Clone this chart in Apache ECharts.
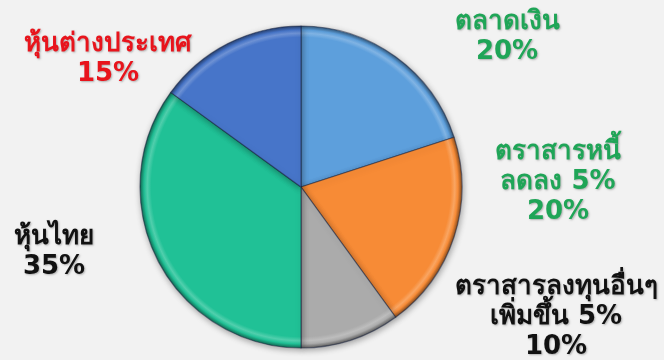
<!DOCTYPE html>
<html>
<head>
<meta charset="utf-8">
<script src="https://cdn.jsdelivr.net/npm/echarts@6/dist/echarts.min.js"></script>
<style>
  html, body { margin: 0; padding: 0; background: #f2f2f2; }
  #chart { width: 664px; height: 360px; }
</style>
</head>
<body>
<div id="chart"></div>
<script>
// Portfolio allocation (percent), clockwise from 12 o'clock
const categories = [
  'ตลาดเงิน',
  'ตราสารหนี้\nลดลง 5%',
  'ตราสารลงทุนอื่นๆ\nเพิ่มขึ้น 5%',
  'หุ้นไทย',
  'หุ้นต่างประเทศ'
];
const shares = [20, 20, 10, 35, 15];

const sliceColors = ['#5d9fdc', '#f78b36', '#ababab', '#20c196', '#4775c9'];
const labelColors = ['#1fa557', '#1fa557', '#111111', '#111111', '#e8141c'];
const labelSpots = [[507, 37], [558, 182], [556, 317], [54, 252], [108, 59]];

const CX = 301, CY = 187, R = 161;

function shade(hex, f) {
  const n = parseInt(hex.slice(1), 16);
  let r = (n >> 16) & 255, g = (n >> 8) & 255, b = n & 255;
  const mix = (c) => f >= 0 ? Math.round(c + (255 - c) * f) : Math.round(c * (1 + f));
  return 'rgb(' + mix(r) + ',' + mix(g) + ',' + mix(b) + ')';
}

// Bevelled rim: light highlight band just inside the edge, darker outer lip
function bevel(hex) {
  return {
    type: 'radial', x: CX, y: CY, r: R, global: true,
    colorStops: [
      { offset: 0, color: hex },
      { offset: 0.93, color: hex },
      { offset: 0.955, color: shade(hex, 0.22) },
      { offset: 0.975, color: hex },
      { offset: 1, color: shade(hex, -0.45) }
    ]
  };
}

const chart = echarts.init(document.getElementById('chart'));
chart.setOption({
  backgroundColor: '#f2f2f2',
  animation: false,
  series: [{
    type: 'pie',
    center: [CX, CY],
    radius: [0, R],
    startAngle: 90,
    clockwise: true,
    data: categories.map((name, i) => ({
      name: name,
      value: shares[i],
      itemStyle: { color: bevel(sliceColors[i]) },
      label: { color: labelColors[i] }
    })),
    itemStyle: {
      borderColor: 'rgba(20,30,60,0.5)',
      borderWidth: 1.2,
      shadowBlur: 6,
      shadowOffsetX: 1,
      shadowOffsetY: 2,
      shadowColor: 'rgba(0,0,0,0.35)'
    },
    label: {
      show: true,
      position: 'outside',
      formatter: (p) => p.name + '\n' + p.value + '%',
      fontFamily: 'Tahoma, "DejaVu Sans", sans-serif',
      fontWeight: 'bold',
      fontSize: 26,
      lineHeight: 30,
      align: 'center',
      textShadowColor: 'rgba(0,0,0,0.28)',
      textShadowBlur: 2,
      textShadowOffsetX: 1,
      textShadowOffsetY: 1
    },
    labelLine: { show: false },
    labelLayout: (p) => ({
      x: labelSpots[p.dataIndex][0],
      y: labelSpots[p.dataIndex][1],
      align: 'center',
      verticalAlign: 'middle'
    })
  }]
});
</script>
</body>
</html>
